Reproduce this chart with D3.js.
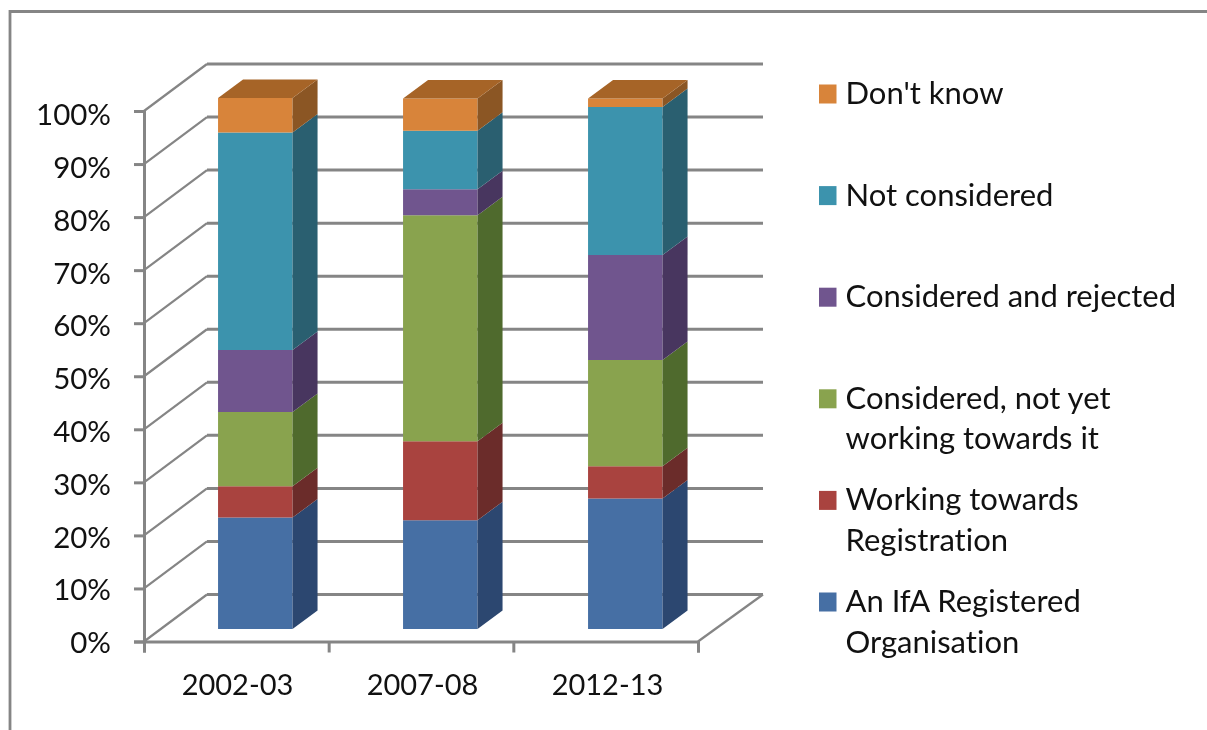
<!DOCTYPE html>
<html>
<head>
<meta charset="utf-8">
<script src="https://cdn.jsdelivr.net/npm/d3@7"></script>
<style>
html, body { margin: 0; padding: 0; background: #fff; }
svg { display: block; filter: blur(0.6px); }
text { font-family: Lato, "Open Sans", sans-serif; fill: #111; font-variant-ligatures: none; }
</style>
</head>
<body>
<svg></svg>
<script>
var width = 1207, height = 730;

var years = ["2002-03", "2007-08", "2012-13"];
var seriesNames = ["An IfA Registered Organisation", "Working towards Registration",
    "Considered, not yet working towards it", "Considered and rejected", "Not considered", "Don't know"];
var legendLines = [["An IfA Registered", "Organisation"], ["Working towards", "Registration"],
    ["Considered, not yet", "working towards it"], ["Considered and rejected"], ["Not considered"], ["Don't know"]];
var registered = [21, 20.5, 24.6];
var working = [5.9, 14.9, 6.1];
var notYet = [14, 42.6, 20];
var rejected = [11.7, 4.9, 19.8];
var notConsidered = [41, 11, 27.9];
var dontKnow = [6.5, 6.1, 1.6];
var seriesValues = [registered, working, notYet, rejected, notConsidered, dontKnow];

var frontColors = ["#466fa4", "#a9433f", "#89a34e", "#70558e", "#3c93ad", "#d8843a"];
var sideColors = ["#2c4770", "#6b2c2a", "#4f6a2d", "#48365f", "#2a5f70", "#8b5624"];
var topColor = "#a66427";
var gridColor = "#858585";

var svg = d3.select("svg").attr("width", width).attr("height", height).attr("viewBox", "0 0 " + width + " " + height);

// outer frame, open on the right and bottom
svg.append("path")
    .attr("d", "M10,730V11.5H1207")
    .attr("fill", "none").attr("stroke", "#858585").attr("stroke-width", 2.8);

var x = d3.scaleBand().domain(years).range([144, 699]);
var y = d3.scaleLinear().domain([0, 100]).range([641.5, 111]);
var labelY = d3.scaleLinear().domain([0, 100]).range([642, 114]);

// 3d offsets
var wallDx = 63, wallDy = -47;
var wallRight = 763;
var barDepthDx = 25, barDepthDy = -18.5;
var barInsetDx = 18.8, barInsetDy = -12.5;
var barWidth = 74.5;
var line = d3.line();

// walls and floor
var grid = svg.append("g").attr("fill", "none").attr("stroke", gridColor);
y.ticks(10).forEach(function (v) {
    var py = y(v);
    grid.append("path")
        .attr("stroke-width", 2.2)
        .attr("d", line([[144, py], [144 + wallDx, py + wallDy]]));
    grid.append("path")
        .attr("stroke-width", 3)
        .attr("d", line([[144 + wallDx, py + wallDy], [wallRight, py + wallDy]]));
});
grid.append("path").attr("stroke-width", 2.2)
    .attr("d", line([[698, y(0)], [wallRight, y(0) + wallDy]]));

// bars
var stack = d3.stack().keys(d3.range(seriesNames.length)).value(function (d, k) {
    return seriesValues[k][d];
});
var stacked = stack(d3.range(years.length));

var bars = svg.append("g");
stacked.forEach(function (layer, s) {
    layer.forEach(function (seg, i) {
        var x0 = x(years[i]) + x.bandwidth() / 2 - barWidth / 2 + barInsetDx;
        var x1 = x0 + barWidth;
        var y0 = y(seg[0]) + barInsetDy, y1 = y(seg[1]) + barInsetDy;
        bars.append("path").attr("fill", frontColors[s])
            .attr("d", line([[x0, y0], [x1, y0], [x1, y1], [x0, y1]]) + "Z");
        bars.append("path").attr("fill", sideColors[s])
            .attr("d", line([[x1, y0], [x1 + barDepthDx, y0 + barDepthDy], [x1 + barDepthDx, y1 + barDepthDy], [x1, y1]]) + "Z");
        if (s === stacked.length - 1) {
            bars.append("path").attr("fill", topColor)
                .attr("d", line([[x0, y1], [x1, y1], [x1 + barDepthDx, y1 + barDepthDy], [x0 + barDepthDx, y1 + barDepthDy]]) + "Z");
        }
    });
});

// y axis
var yAxis = svg.append("g").attr("transform", "translate(144,0)")
    .call(d3.axisLeft(y).ticks(10).tickSize(10).tickPadding(23).tickFormat(function (d) { return d + "%"; }));
yAxis.select(".domain").attr("stroke", gridColor).attr("stroke-width", 3);
yAxis.selectAll(".tick line").attr("stroke", gridColor).attr("stroke-width", 3);
yAxis.selectAll(".tick text")
    .attr("font-size", 29.5)
    .attr("font-family", null)
    .attr("dy", "0.36em")
    .attr("y", function (d) { return labelY(d) - y(d); });

// x axis, ticks sit on the band edges so the default ones are swapped
var xEdges = d3.scaleLinear().domain([0, years.length]).range([144, 698]);
var xAxis = svg.append("g").attr("transform", "translate(0," + y(0) + ")")
    .call(d3.axisBottom(xEdges).ticks(years.length).tickSize(11).tickFormat(""));
xAxis.select(".domain").attr("stroke", gridColor).attr("stroke-width", 3);
xAxis.selectAll(".tick line").attr("stroke", gridColor).attr("stroke-width", 3);

svg.append("g").selectAll("text").data(years).enter().append("text")
    .attr("x", function (d) { return x(d) + x.bandwidth() / 2 + 1; })
    .attr("y", 695)
    .attr("text-anchor", "middle")
    .attr("font-size", 29)
    .text(function (d) { return d; });

// legend
var legendY = d3.scalePoint().domain(d3.range(seriesNames.length)).range([602, 94]);
var legend = svg.append("g").selectAll("g").data(seriesNames).enter().append("g");
legend.append("rect")
    .attr("x", 819).attr("width", 17.5).attr("height", 19)
    .attr("y", function (d, i) { return legendY(i) - 9.5; })
    .attr("fill", function (d, i) { return frontColors[i]; });
legend.each(function (d, i) {
    var g = d3.select(this);
    legendLines[i].forEach(function (t, j) {
        g.append("text")
            .attr("x", 845.5)
            .attr("y", legendY(i) + 10 + j * 40.5)
            .attr("font-size", 31)
            .text(t);
    });
});
</script>
</body>
</html>
